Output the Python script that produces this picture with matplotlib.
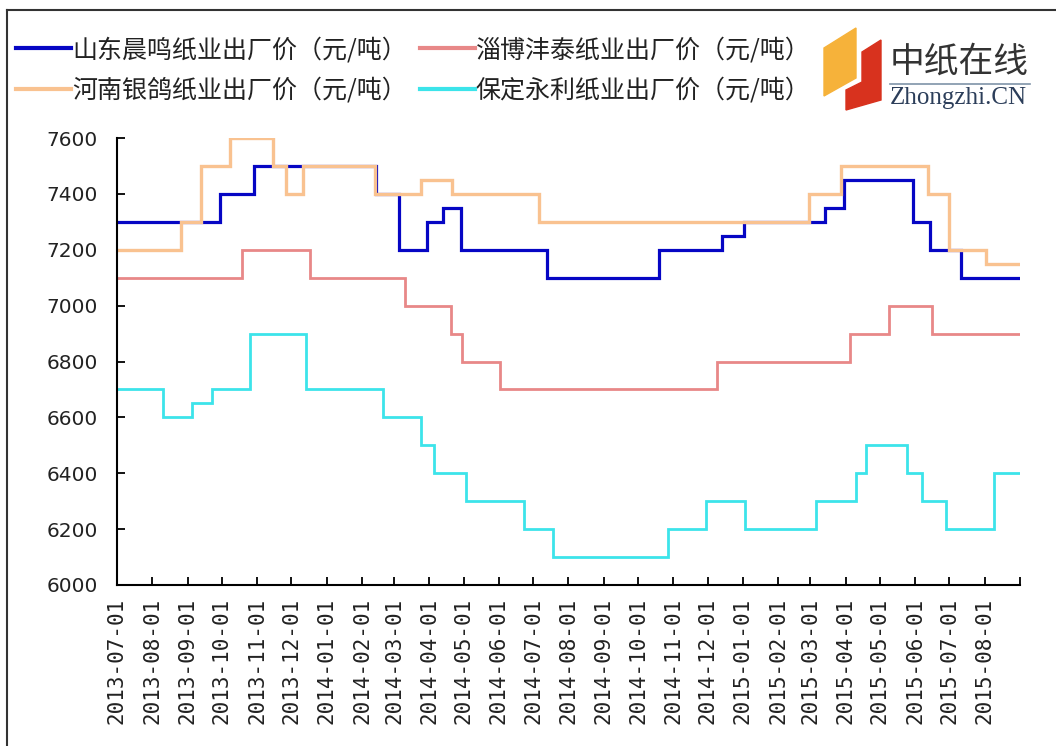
import matplotlib
matplotlib.use("Agg")
import matplotlib.pyplot as plt
from matplotlib.patches import Polygon
from matplotlib.lines import Line2D
import pandas as pd

plt.rcParams['font.family'] = ['Noto Sans CJK SC', 'DejaVu Sans']

# price change dates and prices (元/吨)
chenming_dates = ['2013-07-01', '2013-09-29', '2013-10-29', '2014-02-13', '2014-03-05',
                  '2014-03-30', '2014-04-13', '2014-04-29', '2014-07-13', '2014-10-19',
                  '2014-12-14', '2015-01-02', '2015-03-14', '2015-03-31', '2015-05-30',
                  '2015-06-14', '2015-07-11']
chenming_vals = [7300, 7400, 7500, 7400, 7200, 7300, 7350, 7200, 7100, 7200,
                 7250, 7300, 7350, 7450, 7300, 7200, 7100]

fengtai_dates = ['2013-07-01', '2013-10-19', '2013-12-17', '2014-03-11', '2014-04-20',
                 '2014-04-30', '2014-06-02', '2014-12-09', '2015-04-05', '2015-05-09',
                 '2015-06-16']
fengtai_vals = [7100, 7200, 7100, 7000, 6900, 6800, 6700, 6800, 6900, 7000, 6900]

yinge_dates = ['2013-07-01', '2013-08-26', '2013-09-13', '2013-10-08', '2013-11-15',
               '2013-11-26', '2013-12-11', '2014-02-12', '2014-03-25', '2014-04-21',
               '2014-07-06', '2015-02-28', '2015-03-28', '2015-06-12', '2015-07-01',
               '2015-08-02']
yinge_vals = [7200, 7300, 7500, 7600, 7500, 7400, 7500, 7400, 7450, 7400,
              7300, 7400, 7500, 7400, 7200, 7150]

yongli_dates = ['2013-07-01', '2013-08-10', '2013-09-05', '2013-09-22', '2013-10-26',
                '2013-12-14', '2014-02-19', '2014-03-25', '2014-04-05', '2014-05-03',
                '2014-06-23', '2014-07-18', '2014-10-27', '2014-11-30', '2015-01-03',
                '2015-03-06', '2015-04-10', '2015-04-19', '2015-05-25', '2015-06-07',
                '2015-06-28', '2015-08-09']
yongli_vals = [6700, 6600, 6650, 6700, 6900, 6700, 6600, 6500, 6400, 6300,
               6200, 6100, 6200, 6300, 6200, 6300, 6400, 6500, 6400, 6300,
               6200, 6400]

end_date = '2015-09-01'
labels = ['山东晨鸣纸业出厂价（元/吨）', '河南银鸽纸业出厂价（元/吨）',
          '淄博沣泰纸业出厂价（元/吨）', '保定永利纸业出厂价（元/吨）']
colors = ['#0606c4', '#f9c290', '#e88888', '#3ce4ea']

fig = plt.figure(figsize=(10.56, 7.46), dpi=100)
ax = fig.add_axes([117 / 1056, 1 - 585 / 746, (1020 - 117) / 1056, (585 - 138) / 746])


def step_series(dates, vals):
    d = pd.to_datetime(dates + [end_date])
    v = vals + [vals[-1]]
    return d, v


series = [(chenming_dates, chenming_vals), (yinge_dates, yinge_vals),
          (fengtai_dates, fengtai_vals), (yongli_dates, yongli_vals)]
widths = [2.3, 2.4, 2.0, 2.0]
handles = []
for (dts, vals), c, lab, lw in zip(series, colors, labels, widths):
    d, v = step_series(dts, vals)
    ln, = ax.step(d, v, where='post', color=c, lw=lw, label=lab, solid_joinstyle='miter')
    handles.append(ln)

ax.set_ylim(6000, 7600)
ax.set_xlim(pd.Timestamp('2013-07-01'), pd.Timestamp(end_date))
ax.set_yticks(range(6000, 7601, 200))

months = pd.date_range('2013-07-01', end_date, freq='MS')
ax.set_xticks(months)
ax.set_xticklabels([m.strftime('%Y-%m-%d') for m in months[:-1]] + [''],
                   rotation=90, family='DejaVu Sans Mono', fontsize=15, color='#222222')
for t in ax.get_yticklabels():
    t.set_family('DejaVu Sans')
    t.set_fontsize(14.5)
    t.set_color('#222222')

ax.tick_params(axis='both', direction='in', length=6, width=1.3, color='black')
ax.tick_params(axis='y', pad=14)
ax.tick_params(axis='x', pad=9)
for s in ['top', 'right']:
    ax.spines[s].set_visible(False)
for s in ['left', 'bottom']:
    ax.spines[s].set_linewidth(1.5)
    ax.spines[s].set_color('black')

leg = fig.legend(handles=handles, loc='upper left', bbox_to_anchor=(6 / 1056, 1 - 27 / 746),
                 ncol=2, frameon=False, fontsize=18, handlelength=2.2, handletextpad=0.05,
                 columnspacing=0.5, labelspacing=0.6, borderaxespad=0)
for t in leg.get_texts():
    t.set_color('#222222')
for h in leg.get_lines():
    h.set_linewidth(3)

# logo
W, H = 1056, 746


def fp(x, y):
    return (x / W, 1 - y / H)


fig.patches.append(Polygon([fp(824, 48), fp(856, 28), fp(856, 78), fp(824, 96)],
                           closed=True, transform=fig.transFigure, color='#f6b23a'))
fig.patches.append(Polygon([fp(862, 52), fp(881, 40), fp(881, 100), fp(846, 110),
                            fp(846, 90), fp(862, 82)],
                           closed=True, transform=fig.transFigure, color='#d8321e'))
fig.text(890 / W, 1 - 62 / H, '中纸在线', fontsize=25, color='#333333',
         va='center', ha='left', family=['Noto Sans CJK SC'])
fig.lines.append(Line2D([890 / W, 1030 / W], [1 - 84 / H, 1 - 84 / H],
                        transform=fig.transFigure, color='#7f93a8', lw=1.2))
fig.text(890 / W, 1 - 98 / H, 'Zhongzhi.CN', fontsize=18, color='#2c3e5a',
         va='center', ha='left', family=['Liberation Serif', 'DejaVu Serif'])

# outer frame
fig.lines.append(Line2D([7 / W, 7 / W], [0, 1 - 10 / H], transform=fig.transFigure,
                        color='#333333', lw=1.5))
fig.lines.append(Line2D([7 / W, 1], [1 - 10 / H, 1 - 10 / H], transform=fig.transFigure,
                        color='#333333', lw=1.5))

fig.savefig('out.png', dpi=100)
